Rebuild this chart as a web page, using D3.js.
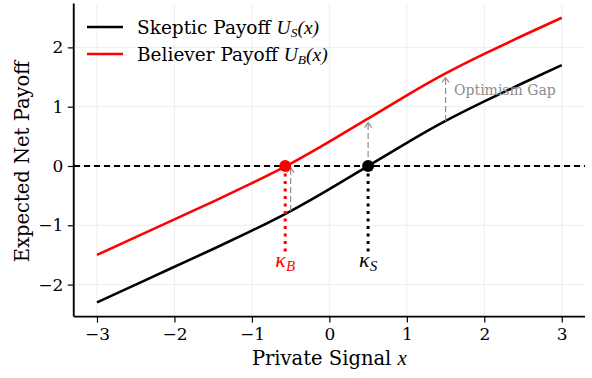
<!DOCTYPE html>
<html>
<head>
<meta charset="utf-8">
<script src="https://cdn.jsdelivr.net/npm/d3@7"></script>
<style>
  html, body { margin: 0; padding: 0; background: #fff; }
  svg { display: block; }
  text { font-family: "DejaVu Serif", serif; }
  .math { font-family: "Liberation Serif", "DejaVu Serif", serif; font-style: italic; }
</style>
</head>
<body>
<svg id="chart" width="592" height="378"></svg>
<script>
// Private signal grid and the two payoff curves
const signal   = [-3, -2.5, -2, -1.5, -1, -0.5, 0, 0.5, 1, 1.5, 2, 2.5, 3];
const skeptic  = [-2.30, -2.00, -1.70, -1.40, -1.09, -0.76, -0.39, 0.00, 0.39, 0.76, 1.09, 1.40, 1.70];
const believer = [-1.50, -1.20, -0.90, -0.60, -0.29, 0.04, 0.41, 0.80, 1.19, 1.56, 1.89, 2.20, 2.50];

// Entry thresholds where each payoff crosses zero
const kappaB = -0.57;
const kappaS = 0.5;

// Signals where the gap between the curves is marked
const gapAt    = [-0.5, 0.5, 1.5];
const gapFrom  = [-0.76, 0.00, 0.76];
const gapTo    = [0.04, 0.80, 1.56];

const xTicks = [-3, -2, -1, 0, 1, 2, 3];
const yTicks = [-2, -1, 0, 1, 2];

const svg = d3.select("#chart");
const pL = 73.75, pR = 585, pT = 3.5, pB = 316.6;

const x = d3.scaleLinear().domain([-3.3, 3.3]).range([pL, pR]);
const y = d3.scaleLinear().domain([-2.54, 2.74]).range([pB, pT]);

// grid
const grid = svg.append("g").attr("stroke", "#ebebeb").attr("stroke-width", 0.9);
xTicks.forEach(t => grid.append("line").attr("x1", x(t)).attr("x2", x(t)).attr("y1", pT).attr("y2", pB));
yTicks.forEach(t => grid.append("line").attr("x1", pL).attr("x2", pR).attr("y1", y(t)).attr("y2", y(t)));

// zero reference line
svg.append("line")
  .attr("x1", pL).attr("x2", pR).attr("y1", y(0)).attr("y2", y(0))
  .attr("stroke", "#000").attr("stroke-width", 1.2).attr("stroke-dasharray", "6.5,3.5")
  .attr("shape-rendering", "crispEdges");

const line = d3.line().x((d, i) => x(signal[i])).y(d => y(d)).curve(d3.curveNatural);

svg.append("path").datum(skeptic).attr("d", line)
  .attr("fill", "none").attr("stroke", "#000").attr("stroke-width", 2.6);
svg.append("path").datum(believer).attr("d", line)
  .attr("fill", "none").attr("stroke", "#ff0000").attr("stroke-width", 2.6);

// optimism-gap arrows
const arrows = svg.append("g").attr("stroke", "#8c8c8c").attr("fill", "none").attr("stroke-width", 1.2);
gapAt.forEach((g, i) => {
  const xp = x(g), y0 = y(gapFrom[i]), y1 = y(gapTo[i]) + 4;
  arrows.append("line").attr("x1", xp).attr("x2", xp).attr("y1", y0).attr("y2", y1)
    .attr("stroke-dasharray", "6,3");
  arrows.append("path").attr("d", `M${xp - 3.5},${y1 + 5}L${xp},${y1}L${xp + 3.5},${y1 + 5}`);
});
svg.append("text").attr("x", x(1.5) + 8.5).attr("y", 95)
  .attr("fill", "#8c8c8c").attr("font-size", 14).text("Optimism Gap");

// threshold droplines, markers and labels
const thresholds = [
  { k: kappaB, color: "#ff0000", sub: "B" },
  { k: kappaS, color: "#000000", sub: "S" }
];
thresholds.forEach(t => {
  svg.append("line").attr("x1", x(t.k)).attr("x2", x(t.k)).attr("y1", y(0)).attr("y2", y(-1.5))
    .attr("stroke", t.color).attr("stroke-width", 3).attr("stroke-dasharray", "3,4.5");
  svg.append("circle").attr("cx", x(t.k)).attr("cy", y(0)).attr("r", 6).attr("fill", t.color);
  const lbl = svg.append("text").attr("class", "math").attr("x", x(t.k)).attr("y", 266.7)
    .attr("text-anchor", "middle").attr("fill", t.color).attr("font-size", 22);
  lbl.append("tspan").text("κ");
  lbl.append("tspan").attr("font-size", 15).attr("dy", 4).text(t.sub);
});

// axes
const fmt = d => d3.format("d")(d).replace("-", "−");
const xAxis = d3.axisBottom(x).tickValues(xTicks).tickSize(6).tickPadding(5.5).tickFormat(fmt);
const yAxis = d3.axisLeft(y).tickValues(yTicks).tickSize(6).tickPadding(4.5).tickFormat(fmt);

const gx = svg.append("g").attr("transform", `translate(0,${pB})`).call(xAxis);
const gy = svg.append("g").attr("transform", `translate(${pL},0)`).call(yAxis);
[gx, gy].forEach(g => {
  g.select(".domain").attr("stroke-width", 1.9).attr("stroke", "#000");
  g.selectAll(".tick line").attr("stroke-width", 1.2).attr("stroke", "#000");
  g.selectAll(".tick text").attr("font-family", "DejaVu Serif").attr("font-size", 17).attr("fill", "#000");
});
gx.select(".domain").attr("d", `M${pL},0H${pR}`);
gy.select(".domain").attr("d", `M0,${pT}V${pB}`);

// axis titles
const xt = svg.append("text").attr("x", (pL + pR) / 2).attr("y", 365)
  .attr("text-anchor", "middle").attr("font-size", 19.5);
xt.append("tspan").text("Private Signal ");
xt.append("tspan").attr("class", "math").attr("font-size", 21).text("x");

svg.append("text").attr("transform", `translate(29,${(pT + pB) / 2 + 1.5}) rotate(-90)`)
  .attr("text-anchor", "middle").attr("font-size", 19.5).text("Expected Net Payoff");

// legend
const legend = [
  { color: "#000", label: "Skeptic Payoff ", sub: "S" },
  { color: "#ff0000", label: "Believer Payoff ", sub: "B" }
];
legend.forEach((l, i) => {
  const ly = 27 + i * 27;
  svg.append("line").attr("x1", 87).attr("x2", 123).attr("y1", ly).attr("y2", ly)
    .attr("stroke", l.color).attr("stroke-width", 2.6);
  const t = svg.append("text").attr("x", 137).attr("y", ly + 6.5).attr("font-size", 18.5);
  t.append("tspan").text(l.label);
  t.append("tspan").attr("class", "math").attr("font-size", 19.5).text("U");
  t.append("tspan").attr("class", "math").attr("font-size", 13.5).attr("dy", 3.5).text(l.sub);
  t.append("tspan").attr("class", "math").attr("font-size", 19.5).attr("dy", -3.5).attr("font-style", "normal").text("(");
  t.append("tspan").attr("class", "math").attr("font-size", 19.5).text("x");
  t.append("tspan").attr("class", "math").attr("font-size", 19.5).attr("font-style", "normal").text(")");
});
</script>
</body>
</html>
